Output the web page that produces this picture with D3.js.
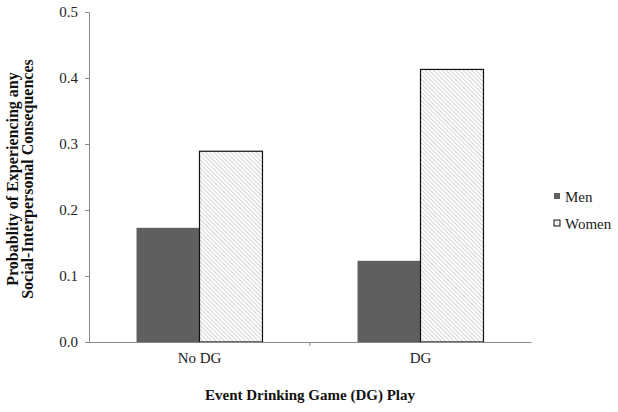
<!DOCTYPE html>
<html>
<head>
<meta charset="utf-8">
<script src="https://cdn.jsdelivr.net/npm/d3@7"></script>
<style>
  body { margin: 0; background: #fff; }
  svg text { font-family: "Liberation Serif", "Times New Roman", serif; }
</style>
</head>
<body>
<div class="chart"></div>
<script>
// data
const groups = ["No DG", "DG"];
const series = ["Men", "Women"];
const menValues = [0.173, 0.123];
const womenValues = [0.289, 0.413];
const yTicks = [0, 0.1, 0.2, 0.3, 0.4, 0.5];

const data = groups.map((g, i) => ({ group: g, Men: menValues[i], Women: womenValues[i] }));

const width = 618, height = 412;
const margin = { top: 12, right: 87, bottom: 70, left: 89 };
const innerW = width - margin.left - margin.right,
    innerH = height - margin.top - margin.bottom;

const svg = d3.select(".chart")
    .append("svg")
    .attr("width", width)
    .attr("height", height);

// hatch pattern for women
const defs = svg.append("defs");
defs.append("pattern")
    .attr("id", "hatch")
    .attr("patternUnits", "userSpaceOnUse")
    .attr("width", 3)
    .attr("height", 3)
    .attr("patternTransform", "rotate(-45)")
    .append("line")
    .attr("x1", 0).attr("y1", 0)
    .attr("x2", 0).attr("y2", 3)
    .attr("stroke", "#a8a8a8")
    .attr("stroke-width", 1);

const g = svg.append("g")
    .attr("transform", `translate(${margin.left},${margin.top})`);

const x0 = d3.scaleBand()
    .domain(groups)
    .range([0, innerW])
    .paddingInner(0.43)
    .paddingOuter(0.215);

const x1 = d3.scaleBand()
    .domain(series)
    .range([0, x0.bandwidth()]);

const y = d3.scaleLinear()
    .domain([0, 0.5])
    .range([innerH, 0]);

// y axis
const yAxis = g.append("g")
    .call(d3.axisLeft(y).tickValues(yTicks).tickFormat(d3.format(".1f")).tickSize(4).tickSizeOuter(0));
yAxis.select(".domain").attr("stroke", "#888");
yAxis.selectAll(".tick line").attr("stroke", "#888");
yAxis.selectAll("text")
    .attr("x", -11)
    .style("font-family", "Liberation Serif")
    .style("font-size", "15px")
    .attr("fill", "#222");

// bars
const bars = g.append("g")
    .selectAll("g")
    .data(data)
    .enter().append("g")
    .attr("transform", d => `translate(${x0(d.group)},0)`);

bars.append("rect")
    .attr("x", x1("Men"))
    .attr("y", d => y(d.Men))
    .attr("width", x1.bandwidth())
    .attr("height", d => innerH - y(d.Men))
    .attr("fill", "#5f5f5f");

bars.append("rect")
    .attr("x", x1("Women"))
    .attr("y", d => y(d.Women))
    .attr("width", x1.bandwidth())
    .attr("height", d => innerH - y(d.Women))
    .attr("fill", "url(#hatch)")
    .attr("stroke", "#111")
    .attr("stroke-width", 1.2);

// x axis
const xAxis = g.append("g")
    .attr("transform", `translate(0,${innerH})`)
    .call(d3.axisBottom(x0).tickSize(0).tickPadding(10));
xAxis.select(".domain").attr("stroke", "#888");
xAxis.selectAll("text")
    .style("font-family", "Liberation Serif")
    .style("font-size", "15px")
    .attr("fill", "#222");

// small tick between categories
g.append("line")
    .attr("x1", x0.step()).attr("x2", x0.step())
    .attr("y1", innerH).attr("y2", innerH + 4)
    .attr("stroke", "#888");

// axis titles
svg.append("text")
    .attr("x", margin.left + innerW / 2)
    .attr("y", 400)
    .attr("text-anchor", "middle")
    .style("font-weight", "bold")
    .style("font-size", "15px")
    .attr("fill", "#111")
    .text("Event Drinking Game (DG) Play");

const yTitle = svg.append("text")
    .attr("transform", `translate(0,${margin.top + innerH / 2 + 2}) rotate(-90)`)
    .attr("text-anchor", "middle")
    .style("font-weight", "bold")
    .style("font-size", "16px")
    .attr("fill", "#111");
yTitle.append("tspan").attr("x", 0).attr("y", 18).text("Probablity of Experiencing any");
yTitle.append("tspan").attr("x", 0).attr("y", 33).text("Social-Interpersonal Consequences");

// legend
const legend = svg.append("g")
    .attr("transform", "translate(554,193)");
series.forEach((s, i) => {
    const row = legend.append("g").attr("transform", `translate(0,${i * 27})`);
    row.append("rect")
        .attr("width", 6).attr("height", 6)
        .attr("fill", s === "Men" ? "#5f5f5f" : "url(#hatch)")
        .attr("stroke", s === "Men" ? "none" : "#111");
    row.append("text")
        .attr("x", 11).attr("y", 9)
        .style("font-size", "15px")
        .attr("fill", "#222")
        .text(s);
});
</script>
</body>
</html>
